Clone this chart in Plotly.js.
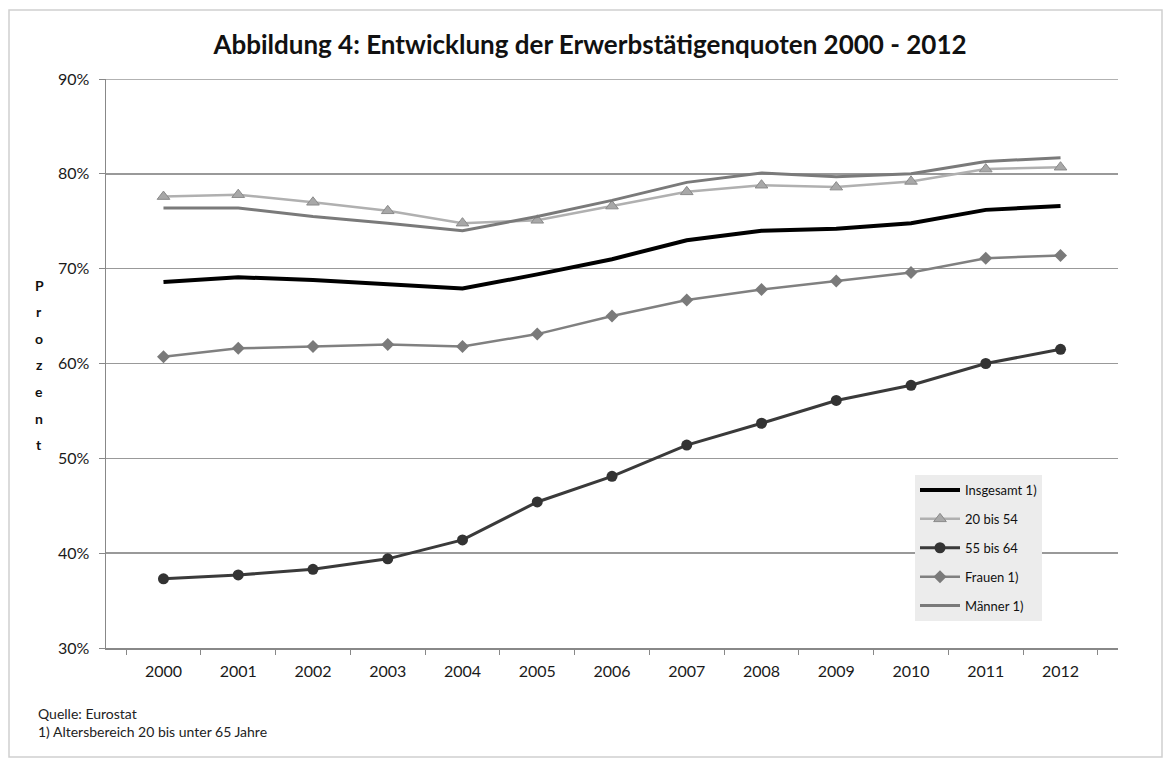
<!DOCTYPE html>
<html>
<head>
<meta charset="utf-8">
<script src="https://cdn.plot.ly/plotly-3.0.1.min.js"></script>
<style>
html,body{margin:0;padding:0;background:#fff;}
#chart{width:1168px;height:760px;}
</style>
</head>
<body>
<div id="chart"></div>
<script>
const years = ['2000','2001','2002','2003','2004','2005','2006','2007','2008','2009','2010','2011','2012'];
const insgesamt = [68.6, 69.1, 68.8, 68.4, 67.9, 69.4, 71.0, 73.0, 74.0, 74.2, 74.8, 76.2, 76.6];
const bis20_54 = [77.6, 77.8, 77.0, 76.1, 74.8, 75.1, 76.6, 78.1, 78.8, 78.6, 79.2, 80.5, 80.7];
const bis55_64 = [37.3, 37.7, 38.3, 39.4, 41.4, 45.4, 48.1, 51.4, 53.7, 56.1, 57.7, 60.0, 61.5];
const frauen = [60.7, 61.6, 61.8, 62.0, 61.8, 63.1, 65.0, 66.7, 67.8, 68.7, 69.6, 71.1, 71.4];
const maenner = [76.4, 76.4, 75.5, 74.8, 74.0, 75.5, 77.2, 79.1, 80.1, 79.7, 80.0, 81.3, 81.7];
const seriesNames = ['Insgesamt 1)', '20 bis 54', '55 bis 64', 'Frauen 1)', 'Männer 1)'];
const yTickVals = [30, 40, 50, 60, 70, 80, 90];
const yTickText = ['30%', '40%', '50%', '60%', '70%', '80%', '90%'];
const titleText = 'Abbildung 4: Entwicklung der Erwerbstätigenquoten 2000 - 2012';
const yTitleLetters = 'Prozent';
const footnotes = ['Quelle: Eurostat', '1) Altersbereich 20 bis unter 65 Jahre'];

const FONT = 'Lato, "Open Sans", sans-serif';

const traces = [
  {x: years, y: insgesamt, name: seriesNames[0], mode: 'lines', legendgroup: 'a',
   line: {color: '#000000', width: 4}},
  {x: years, y: bis20_54, name: seriesNames[1], mode: 'lines+markers', legendgroup: 'b',
   line: {color: '#b0b0b0', width: 2.5},
   marker: {symbol: 'triangle-up', size: 11, color: '#a8a8a8', line: {color: '#8a8a8a', width: 1}}},
  {x: years, y: bis55_64, name: seriesNames[2], mode: 'lines+markers', legendgroup: 'c',
   line: {color: '#3a3a3a', width: 3},
   marker: {symbol: 'circle', size: 11, color: '#333333'}},
  {x: years, y: frauen, name: seriesNames[3], mode: 'lines+markers', legendgroup: 'd',
   line: {color: '#808080', width: 2.5},
   marker: {symbol: 'diamond', size: 10, color: '#7a7a7a'}},
  {x: years, y: maenner, name: seriesNames[4], mode: 'lines', legendgroup: 'e',
   line: {color: '#7a7a7a', width: 3}}
];

// plot area in pixels: left 106, right 1118, top 79, bottom 648
const L = 106, R = 1118, T = 79, B = 648, W = 1168, H = 760;
const pw = R - L, ph = B - T;
const px = v => (v - L) / pw;
const py = v => (B - v) / ph;

const annotations = [];
yTitleLetters.split('').forEach((ch, i) => {
  annotations.push({
    text: ch, xref: 'paper', yref: 'paper', x: px(39), y: py(285 + i * 26.6),
    xanchor: 'center', yanchor: 'middle', showarrow: false,
    font: {family: FONT, size: 14, color: '#111', weight: 'bold'}
  });
});
footnotes.forEach((t, i) => {
  annotations.push({
    text: t, xref: 'paper', yref: 'paper', x: px(36), y: py(713 + i * 18),
    xanchor: 'left', yanchor: 'middle', showarrow: false,
    font: {family: FONT, size: 14, color: '#222'}
  });
});

const layout = {
  width: W, height: H,
  paper_bgcolor: '#ffffff', plot_bgcolor: '#ffffff',
  margin: {l: L, r: W - R, t: T, b: H - B, pad: 0},
  title: {text: '<b>' + titleText + '</b>', x: 590 / W, xanchor: 'center',
          y: 1 - 45 / H, yanchor: 'middle', yref: 'container',
          font: {family: FONT, size: 26, color: '#111'}},
  showlegend: true,
  legend: {x: px(915), y: py(475), xanchor: 'left', yanchor: 'top',
           bgcolor: '#ececec', borderwidth: 0, traceorder: 'grouped', tracegroupgap: 9,
           font: {family: FONT, size: 13, color: '#111'}, itemwidth: 40},
  xaxis: {type: 'category', tickson: 'boundaries', ticks: 'outside', ticklen: 5,
          tickcolor: '#888', showline: true, linecolor: '#888', linewidth: 1.5,
          showgrid: false, zeroline: false, ticklabelstandoff: 8,
          tickfont: {family: FONT, size: 16, color: '#1a1a1a'}},
  yaxis: {range: [30, 90], tickvals: yTickVals, ticktext: yTickText, ticks: 'outside', ticklen: 6,
          tickcolor: '#888', showline: true, linecolor: '#888', linewidth: 1.5,
          showgrid: true, gridcolor: '#999', gridwidth: 1.5, zeroline: false, ticklabelstandoff: 6,
          tickfont: {family: FONT, size: 16, color: '#1a1a1a'}},
  annotations: annotations,
  shapes: [
    {type: 'rect', xref: 'paper', yref: 'paper', x0: px(9), x1: px(1162), y0: py(757), y1: py(10),
     line: {color: '#d0d0d0', width: 1.5}, fillcolor: 'rgba(0,0,0,0)', layer: 'below'},
    {type: 'line', xref: 'paper', yref: 'y', x0: 0, x1: 1, y0: yTickVals[yTickVals.length - 1], y1: yTickVals[yTickVals.length - 1],
     line: {color: '#999', width: 1.5}, layer: 'below'}
  ]
};

Plotly.newPlot('chart', traces, layout, {displayModeBar: false, staticPlot: true});
</script>
</body>
</html>
